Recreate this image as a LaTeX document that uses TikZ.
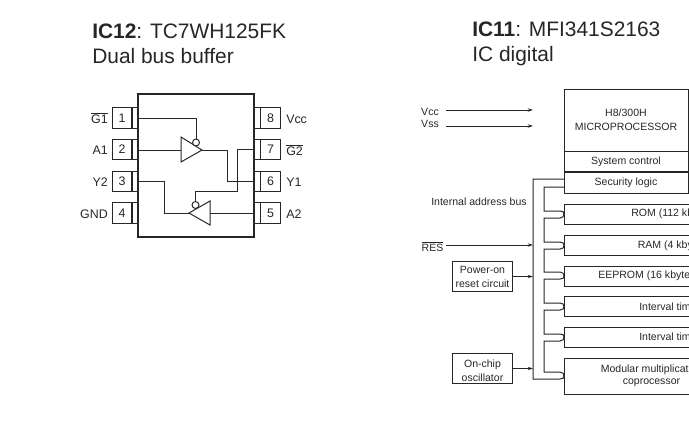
\documentclass[tikz,border=0pt]{standalone}
\usepackage{fontspec}
\setmainfont{Liberation Sans}
\usetikzlibrary{arrows.meta, positioning}
\tikzset{
  wire/.style={black!85, line width=0.75pt},
  sigarrow/.style={wire, -{Stealth[length=4pt,width=2.6pt]}},
  titletext/.style={anchor=north west, align=left, inner sep=0pt, text=black!85, font=\fontsize{15.7}{18.75}\selectfont},
  pinbox/.style={draw=black!85, line width=0.75pt, minimum width=15pt, minimum height=15.4pt, inner sep=0pt, text=black!85, font=\fontsize{9.3}{11}\selectfont},
  leadbox/.style={draw=black!85, line width=0.75pt, minimum width=5pt, minimum height=15.4pt, inner sep=0pt},
  pinname/.style={inner sep=0pt, text=black!85, font=\fontsize{9.3}{11}\selectfont},
  bubble/.style={circle, draw=black!85, line width=0.75pt, fill=white, minimum size=5.2pt, inner sep=0pt},
  cpubox/.style={draw=black!85, line width=0.75pt, minimum width=93pt, inner sep=0pt, align=center, text=black!85, font=\fontsize{7.9}{10.4}\selectfont},
  membox/.style={draw=black!85, line width=0.75pt, anchor=west, minimum width=180pt, inner sep=0pt},
  memname/.style={anchor=west, inner sep=0pt, align=center, text=black!85, font=\fontsize{7.9}{10.4}\selectfont},
  sidebox/.style={draw=black!85, line width=0.75pt, minimum width=45.5pt, minimum height=23pt, inner sep=0pt},
  sidename/.style={inner sep=0pt, align=center, text=black!85, font=\fontsize{7.9}{10.4}\selectfont},
}
\begin{document}
\begin{tikzpicture}[x=0.75pt, y=-0.75pt]
\path [use as bounding box, clip] (0,0) rectangle (689,430);
\node (titleleft) at (92,23.500000) [titletext] {\textbf{IC12}: TC7WH125FK\\Dual bus buffer};
\node (titleright) at (472,21.500000) [titletext] {\textbf{IC11}: MFI341S2163\\IC digital};
\node (pinone) at (122,118) [pinbox] {1};
\node (pintwo) at (122,149.500000) [pinbox] {2};
\node (pinthree) at (122,181.500000) [pinbox] {3};
\node (pinfour) at (122,213) [pinbox] {4};
\node (leadone) at (135,118) [leadbox] {};
\node (leadtwo) at (135,149.500000) [leadbox] {};
\node (leadthree) at (135,181.500000) [leadbox] {};
\node (leadfour) at (135,213) [leadbox] {};
\node (pineight) at (270.500000,118) [pinbox] {8};
\node (pinseven) at (270.500000,149.500000) [pinbox] {7};
\node (pinsix) at (270.500000,181.500000) [pinbox] {6};
\node (pinfive) at (270.500000,213) [pinbox] {5};
\node (leadeight) at (257.500000,118) [leadbox] {};
\node (leadseven) at (257.500000,149.500000) [leadbox] {};
\node (leadsix) at (257.500000,181.500000) [leadbox] {};
\node (leadfive) at (257.500000,213) [leadbox] {};
\node (nameone) at (108,118) [pinname, anchor=east] {$\overline{\mbox{G1}}$};
\node (nametwo) at (108,150) [pinname, anchor=east] {A1};
\node (namethree) at (108,182) [pinname, anchor=east] {Y2};
\node (namefour) at (108,214) [pinname, anchor=east] {GND};
\node (nameeight) at (286,119) [pinname, anchor=west] {Vcc};
\node (nameseven) at (286,150) [pinname, anchor=west] {$\overline{\mbox{G2}}$};
\node (namesix) at (286,182) [pinname, anchor=west] {Y1};
\node (namefive) at (286,214) [pinname, anchor=west] {A2};
\node (chip) at (196,165.500000) [draw=black!85, line width=1.5pt, minimum width=87pt, minimum height=107pt, inner sep=0pt] {};
\coordinate (bufain) at (181,150);
\coordinate (bufatop) at (181,137);
\coordinate (bufabot) at (181,162);
\coordinate (bufaout) at (202,150);
\coordinate (bufbin) at (210,213);
\coordinate (bufbtop) at (210,201);
\coordinate (bufbbot) at (210,225);
\coordinate (bufbout) at (189,213);
\coordinate (gtwoturn) at (237,191);
\draw [wire] (bufatop) -- (bufabot) -- (bufaout) -- cycle;
\draw [wire] (bufbtop) -- (bufbbot) -- (bufbout) -- cycle;
\node (buba) at (196,142.500000) [bubble] {};
\node (bubb) at (195.500000,205) [bubble] {};
\draw [wire] (leadone.east) -| (buba.north);
\draw [wire] (leadtwo.east |- bufain) -- (bufain);
\draw [wire] (bufaout) -- ++(25,0) |- (leadsix.west);
\draw [wire] (leadseven.west) -| (gtwoturn) -| (bubb.north);
\draw [wire] (leadfive.west |- bufbin) -- (bufbin);
\draw [wire] (leadthree.east) -- ++(26,0) |- (bufbout);
\node (vcctext) at (430,112) [sidename] {Vcc};
\node (vsstext) at (430,124) [sidename] {Vss};
\node (restext) at (432.500000,247) [sidename] {$\overline{\mbox{RES}}$};
\node (bustext) at (479,202) [sidename] {Internal address bus};
\coordinate (vccfrom) at (446,110);
\coordinate (vccto) at (533,110);
\coordinate (vssfrom) at (446,126);
\coordinate (vssto) at (533,126);
\coordinate (resfrom) at (446,245);
\coordinate (busx) at (533,0);
\coordinate (zigx) at (544,0);
\node (micro) at (626,120) [cpubox, minimum height=46.500000pt] {H8/300H\\MICROPROCESSOR};
\node (sysctl) at (626,161.500000) [cpubox, minimum height=15.500000pt] {System control};
\node (secur) at (626,182.500000) [cpubox, minimum height=15.750000pt] {Security logic};
\node (rom) at (564,214) [membox, minimum height=15pt] {};
\node (ram) at (564,245.500000) [membox, minimum height=15.400000pt] {};
\node (eeprom) at (564,276) [membox, minimum height=15pt] {};
\node (timera) at (564,306.500000) [membox, minimum height=15.500000pt] {};
\node (timerb) at (564,337) [membox, minimum height=15pt] {};
\node (modmul) at (564,376) [membox, minimum height=27pt] {};
\node (romtext) at (631,214) [memname] {ROM (112 kb};
\node (ramtext) at (637.500000,245.500000) [memname] {RAM (4 kby};
\node (eepromtext) at (598,276) [memname] {EEPROM (16 kbyte};
\node (timeratext) at (639,306.500000) [memname] {Interval tim};
\node (timerbtext) at (639,337) [memname] {Interval tim};
\node (modmultext) at (600.500000,370) [memname] {Modular multiplicat};
\node (coproc) at (622.500000,383) [memname] {coprocessor};
\node (reset) at (482.500000,276.500000) [sidebox] {};
\node (resettext) at (482.500000,276.500000) [sidename] {Power-on\\reset circuit};
\node (osc) at (482.500000,368.500000) [sidebox] {};
\node (osctext) at (482.500000,370.500000) [sidename] {On-chip\\oscillator};
\draw [sigarrow] (vccfrom) -- (vccto);
\draw [sigarrow] (vssfrom) -- (vssto);
\draw [sigarrow] (resfrom) -- (resfrom -| busx);
\draw [sigarrow] (reset.east) -- (reset.east -| busx);
\draw [sigarrow] (osc.east) -- (osc.east -| busx);
\coordinate (securtop) at (564,179);
\coordinate (securbot) at (564,187);
\coordinate (romup) at (560,211);
\coordinate (romlow) at (560,218);
\coordinate (ramup) at (560,242);
\coordinate (ramlow) at (560,249);
\coordinate (eepromup) at (560,272);
\coordinate (eepromlow) at (560,279);
\coordinate (timeraup) at (560,303);
\coordinate (timeralow) at (560,310);
\coordinate (timerbup) at (560,334);
\coordinate (timerblow) at (560,341);
\coordinate (modup) at (560,372);
\coordinate (modlow) at (560,379);
\draw [wire] (securtop) -- (securtop -| busx) |- (modlow) .. controls +(3,0) and +(0,2) .. (modmul.west);
\draw [wire] (securbot) -- (securbot -| zigx) |- (romup) .. controls +(3,0) and +(0,-2) .. (rom.west);
\draw [wire] (rom.west) .. controls +(0,2) and +(3,0) .. (romlow) -- (romlow -| zigx) |- (ramup) .. controls +(3,0) and +(0,-2) .. (ram.west);
\draw [wire] (ram.west) .. controls +(0,2) and +(3,0) .. (ramlow) -- (ramlow -| zigx) |- (eepromup) .. controls +(3,0) and +(0,-2) .. (eeprom.west);
\draw [wire] (eeprom.west) .. controls +(0,2) and +(3,0) .. (eepromlow) -- (eepromlow -| zigx) |- (timeraup) .. controls +(3,0) and +(0,-2) .. (timera.west);
\draw [wire] (timera.west) .. controls +(0,2) and +(3,0) .. (timeralow) -- (timeralow -| zigx) |- (timerbup) .. controls +(3,0) and +(0,-2) .. (timerb.west);
\draw [wire] (timerb.west) .. controls +(0,2) and +(3,0) .. (timerblow) -- (timerblow -| zigx) |- (modup) .. controls +(3,0) and +(0,-2) .. (modmul.west);
\end{tikzpicture}
\end{document}
